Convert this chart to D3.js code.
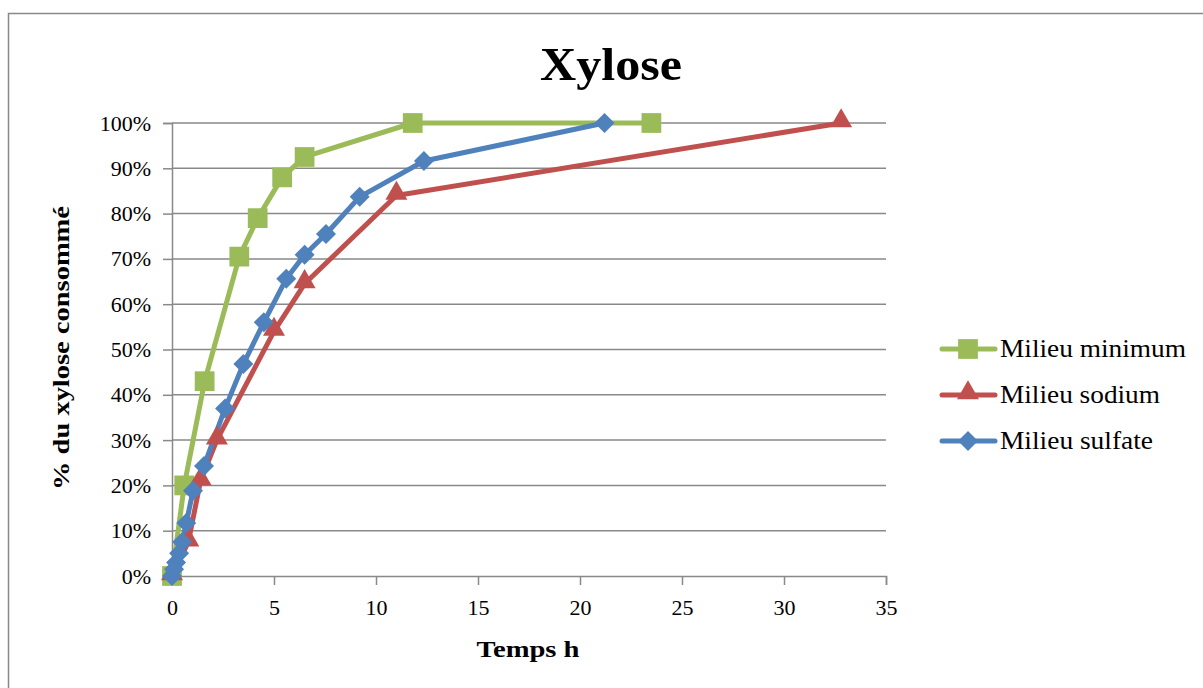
<!DOCTYPE html>
<html><head><meta charset="utf-8">
<script src="https://cdn.jsdelivr.net/npm/d3@7"></script>
<style>body{margin:0;background:#fff}svg{display:block}</style>
</head><body>
<script>
const title = "Xylose";
const xTitle = "Temps h";
const yTitle = "% du xylose consommé";
const seriesNames = ["Milieu minimum", "Milieu sodium", "Milieu sulfate"];
const minimumT = [0, 0.6, 1.6, 3.3, 4.2, 5.4, 6.5, 11.8, 23.5];
const minimumV = [0, 0.20, 0.43, 0.705, 0.79, 0.88, 0.925, 1.0, 1.0];
const sodiumT = [0, 0.8, 1.4, 2.2, 5.0, 6.5, 11.0, 32.8];
const sodiumV = [0, 0.075, 0.21, 0.30, 0.54, 0.645, 0.84, 1.0];
const sulfateT = [0, 0.1, 0.2, 0.35, 0.5, 0.7, 1.03, 1.57, 2.6, 3.5, 4.5, 5.6, 6.5, 7.55, 9.2, 12.35, 21.2];
const sulfateV = [0, 0.015, 0.03, 0.05, 0.075, 0.117, 0.188, 0.243, 0.37, 0.468, 0.56, 0.656, 0.709, 0.755, 0.837, 0.916, 1.0];
const xTicks = [0, 5, 10, 15, 20, 25, 30, 35];
const yTicks = [0, 0.1, 0.2, 0.3, 0.4, 0.5, 0.6, 0.7, 0.8, 0.9, 1.0];
const colors = ["#9BBB59", "#C0504D", "#4F81BD"];
const symbols = [d3.symbolSquare, d3.symbolTriangle, d3.symbolSquare];
const symSizes = [390, 210, 200];
const symRot = [0, 0, 45];
const symDy = [0, -2, 0];

const W = 1203, H = 688;
const svg = d3.select("body").append("svg").attr("width", W).attr("height", H);
const font = "'Liberation Serif','DejaVu Serif',serif";
const grid = "#898989";

svg.append("rect").attr("x", 8.5).attr("y", 13.5).attr("width", 1250).attr("height", 700)
  .attr("fill", "none").attr("stroke", grid).attr("stroke-width", 1.5);

const x = d3.scaleLinear().domain([0, 35]).range([172, 886]);
const y = d3.scaleLinear().domain([0, 1]).range([576, 123]);

svg.append("g").selectAll("line").data(yTicks.slice(1)).join("line")
  .attr("x1", x(0)).attr("x2", x(35)).attr("y1", d => y(d)).attr("y2", d => y(d))
  .attr("stroke", grid).attr("stroke-width", 1.5);

const yAxis = svg.append("g").attr("transform", `translate(${x(0)},0)`)
  .call(d3.axisLeft(y).tickValues(yTicks).tickFormat(d3.format(".0%")).tickSize(9).tickPadding(12));
const xAxis = svg.append("g").attr("transform", `translate(0,${y(0)})`)
  .call(d3.axisBottom(x).tickValues(xTicks).tickSize(9).tickPadding(14));
[yAxis, xAxis].forEach(a => {
  a.select(".domain").attr("stroke", grid).attr("stroke-width", 1.5);
  a.selectAll(".tick line").attr("stroke", grid).attr("stroke-width", 1.5);
  a.selectAll("text").attr("font-family", font).attr("font-size", 22).attr("fill", "#000");
});

const data = [
  minimumT.map((t, i) => [t, minimumV[i]]),
  sodiumT.map((t, i) => [t, sodiumV[i]]),
  sulfateT.map((t, i) => [t, sulfateV[i]])
];
const line = d3.line().x(d => x(d[0])).y(d => y(d[1]));
data.forEach((s, k) => {
  svg.append("path").attr("d", line(s)).attr("fill", "none")
    .attr("stroke", colors[k]).attr("stroke-width", 5).attr("stroke-linejoin", "round");
});
data.forEach((s, k) => {
  svg.append("g").selectAll("path").data(s).join("path")
    .attr("d", d3.symbol().type(symbols[k]).size(symSizes[k]))
    .attr("transform", d => `translate(${x(d[0])},${y(d[1]) + symDy[k]}) rotate(${symRot[k]})`)
    .attr("fill", colors[k]);
});

svg.append("text").attr("x", 611).attr("y", 80).attr("text-anchor", "middle")
  .attr("font-family", font).attr("font-weight", "bold").attr("font-size", 46)
  .attr("textLength", 142).attr("lengthAdjust", "spacingAndGlyphs").text(title);
svg.append("text").attr("x", 528).attr("y", 657).attr("text-anchor", "middle")
  .attr("font-family", font).attr("font-weight", "bold").attr("font-size", 24)
  .attr("textLength", 103).attr("lengthAdjust", "spacingAndGlyphs").text(xTitle);
svg.append("text").attr("transform", "translate(69,348) rotate(-90)").attr("text-anchor", "middle")
  .attr("font-family", font).attr("font-weight", "bold").attr("font-size", 24)
  .attr("textLength", 284).attr("lengthAdjust", "spacingAndGlyphs").text(yTitle);

const legendW = [186, 160, 153];
seriesNames.forEach((n, k) => {
  const ly = 349 + k * 46;
  const g = svg.append("g");
  g.append("line").attr("x1", 942).attr("x2", 995).attr("y1", ly).attr("y2", ly)
    .attr("stroke", colors[k]).attr("stroke-width", 5).attr("stroke-linecap", "round");
  g.append("path").attr("d", d3.symbol().type(symbols[k]).size(symSizes[k]))
    .attr("transform", `translate(968,${ly + symDy[k]}) rotate(${symRot[k]})`).attr("fill", colors[k]);
  g.append("text").attr("x", 1000).attr("y", ly + 8).attr("font-family", font)
    .attr("font-size", 25).attr("textLength", legendW[k]).attr("lengthAdjust", "spacingAndGlyphs").text(n);
});
</script>
</body></html>
